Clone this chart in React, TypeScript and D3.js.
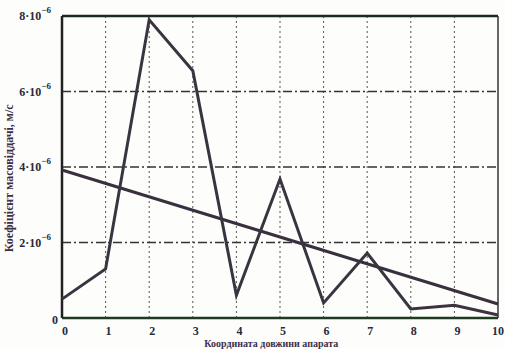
import React, { useEffect, useRef } from "react";
import * as d3 from "d3";

// координата довжини апарата
const coords = [0, 1, 2, 3, 4, 5, 6, 7, 8, 9, 10];
// коефіцієнт масовіддачі, x1e-6 м/с
const measured = [0.5, 1.3, 7.9, 6.55, 0.6, 3.68, 0.4, 1.72, 0.24, 0.34, 0.08];
const trend = [3.92, 0.37]; // значення лінії тренду на x=0 і x=10
const yTicks = [0, 2, 4, 6, 8];

const W = 505;
const H = 349;
const margin = { top: 16, left: 62, bottom: 31, right: 6 };

const App = () => {
  const ref = useRef<SVGSVGElement>(null);

  useEffect(() => {
    const svg = d3.select(ref.current);
    svg.selectAll("*").remove();

    const x = d3.scaleLinear().domain([0, 10]).range([margin.left, W - margin.right - 1]);
    const y = d3.scaleLinear().domain([0, 8]).range([H - margin.bottom, margin.top]);

    svg.append("rect").attr("width", W).attr("height", H).attr("fill", "#fdfdfb");

    // сітка
    const grid = svg.append("g");
    grid
      .selectAll("line.v")
      .data(coords.slice(1, -1))
      .enter()
      .append("line")
      .attr("x1", (d) => x(d))
      .attr("x2", (d) => x(d))
      .attr("y1", y(8))
      .attr("y2", y(0))
      .attr("stroke", "#555")
      .attr("stroke-width", 1)
      .attr("stroke-dasharray", "2,3");
    grid
      .selectAll("line.h")
      .data(yTicks.slice(1, -1))
      .enter()
      .append("line")
      .attr("x1", x(0))
      .attr("x2", x(10))
      .attr("y1", (d) => y(d))
      .attr("y2", (d) => y(d))
      .attr("stroke", "#333")
      .attr("stroke-width", 1.3)
      .attr("stroke-dasharray", "9,3,2,3");

    // рамка
    svg.append("line").attr("x1", x(0)).attr("x2", x(10)).attr("y1", y(8)).attr("y2", y(8))
      .attr("stroke", "#1d2a22").attr("stroke-width", 2.5);
    svg.append("line").attr("x1", x(0)).attr("x2", x(10)).attr("y1", y(0)).attr("y2", y(0))
      .attr("stroke", "#1f3a22").attr("stroke-width", 2.5);
    svg.append("line").attr("x1", x(0)).attr("x2", x(0)).attr("y1", y(8)).attr("y2", y(0))
      .attr("stroke", "#222").attr("stroke-width", 2.5);
    svg.append("line").attr("x1", x(10)).attr("x2", x(10)).attr("y1", y(8)).attr("y2", y(0))
      .attr("stroke", "#333").attr("stroke-width", 1.5);

    // підписи осей
    const font = "Liberation Serif, Times New Roman, DejaVu Serif, serif";
    const xt = svg.append("g").attr("font-family", font).attr("font-weight", "bold")
      .attr("font-size", 12).attr("fill", "#2a2a3a");
    xt.selectAll("text")
      .data(coords)
      .enter()
      .append("text")
      .attr("x", (d) => (d === 10 ? W - 1 : x(d) + 3))
      .attr("y", y(0) + 17)
      .attr("text-anchor", (d) => (d === 10 ? "end" : "middle"))
      .text((d) => d);

    const yt = svg.append("g").attr("font-family", font).attr("font-weight", "bold")
      .attr("font-size", 12).attr("fill", "#2a2a3a");
    yTicks.forEach((v) => {
      const t = yt.append("text").attr("x", v === 0 ? x(0) - 4 : x(0) - 11)
        .attr("y", y(v) + (v === 0 ? 6 : 4)).attr("text-anchor", "end");
      if (v === 0) {
        t.text("0");
      } else {
        t.append("tspan").text(`${v}·10`);
        t.append("tspan").attr("dy", -7).attr("font-size", 9).text("−6");
      }
    });

    svg.append("text")
      .attr("transform", `translate(13, ${y(3.7)}) rotate(-90)`)
      .attr("text-anchor", "middle")
      .attr("font-family", font)
      .attr("font-weight", "bold")
      .attr("font-size", 12)
      .attr("fill", "#3a2f48")
      .text("Коефіцієнт масовіддачі, м/с");

    svg.append("text")
      .attr("x", x(4.8))
      .attr("y", H - 2)
      .attr("text-anchor", "middle")
      .attr("font-family", font)
      .attr("font-weight", "bold")
      .attr("font-size", 10)
      .attr("fill", "#3a2f48")
      .text("Координата довжини апарата");

    // лінія тренду
    svg.append("line")
      .attr("x1", x(0)).attr("y1", y(trend[0]))
      .attr("x2", x(10)).attr("y2", y(trend[1]))
      .attr("stroke", "#38303f").attr("stroke-width", 3);

    // дані
    const line = d3.line<number>().x((_, i) => x(coords[i])).y((d) => y(d));
    svg.append("path")
      .datum(measured)
      .attr("d", line)
      .attr("fill", "none")
      .attr("stroke", "#3a3440")
      .attr("stroke-width", 3)
      .attr("stroke-linejoin", "miter");
  }, []);

  return (
    <div style={{ position: "fixed", left: 0, top: 0 }}>
      <svg ref={ref} width={W} height={H} style={{ display: "block" }} />
    </div>
  );
};

export default App;
